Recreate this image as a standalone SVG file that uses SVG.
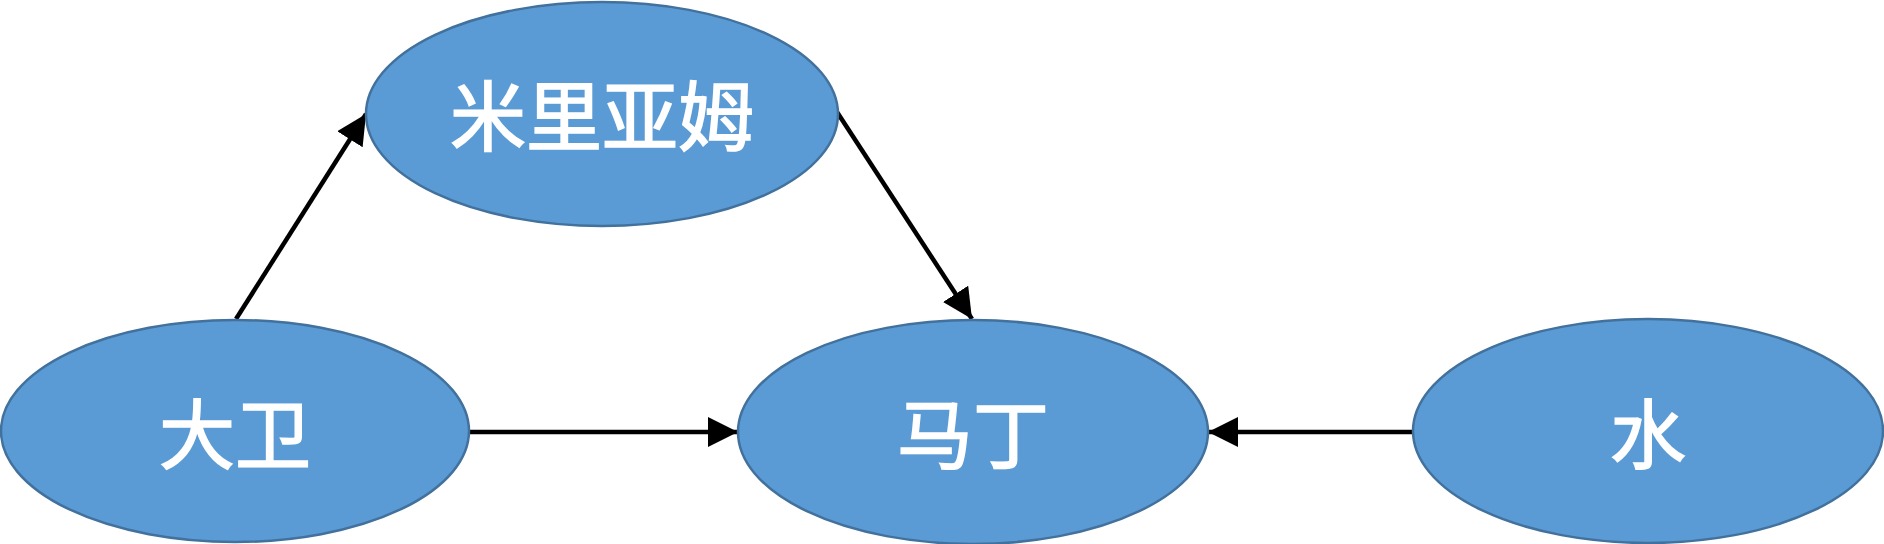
<svg xmlns="http://www.w3.org/2000/svg" width="1884" height="544" viewBox="0 0 1884 544">
  <style>
    .node ellipse { fill: #5B9BD5; stroke: #41719C; stroke-width: 2.5; }
    .node text { fill: #FFFFFF; stroke: #FFFFFF; stroke-width: 1.6; font-family: "Noto Sans CJK SC", "Noto Sans", sans-serif; font-size: 76px; text-anchor: middle; dominant-baseline: central; }
    .edge { stroke: #000000; stroke-width: 4.5; fill: none; marker-end: url(#arrow); }
  </style>
  <defs>
    <marker id="arrow" markerUnits="userSpaceOnUse" markerWidth="32" markerHeight="32" refX="30" refY="15" orient="auto">
      <path d="M0,0 L30,15 L0,30 Z" fill="#000000"/>
    </marker>
  </defs>
  <rect width="1884" height="544" fill="#FFFFFF"/>
  <g id="connectors">
    <line class="edge" x1="236" y1="319" x2="366" y2="114"/>
    <line class="edge" x1="837" y1="112" x2="972" y2="319"/>
    <line class="edge" x1="468" y1="432" x2="738" y2="432"/>
    <line class="edge" x1="1412" y1="432" x2="1208" y2="432"/>
  </g>
  <g id="node-miriam" class="node">
    <ellipse cx="602" cy="114" rx="236" ry="112"/>
    <text x="602" y="112">米里亚姆</text>
  </g>
  <g id="node-david" class="node">
    <ellipse cx="235" cy="431" rx="234" ry="111"/>
    <text x="235" y="430">大卫</text>
  </g>
  <g id="node-martin" class="node">
    <ellipse cx="973" cy="432" rx="235" ry="112"/>
    <text x="973" y="430">马丁</text>
  </g>
  <g id="node-water" class="node">
    <ellipse cx="1648" cy="431" rx="235" ry="112"/>
    <text x="1648" y="430">水</text>
  </g>
</svg>
